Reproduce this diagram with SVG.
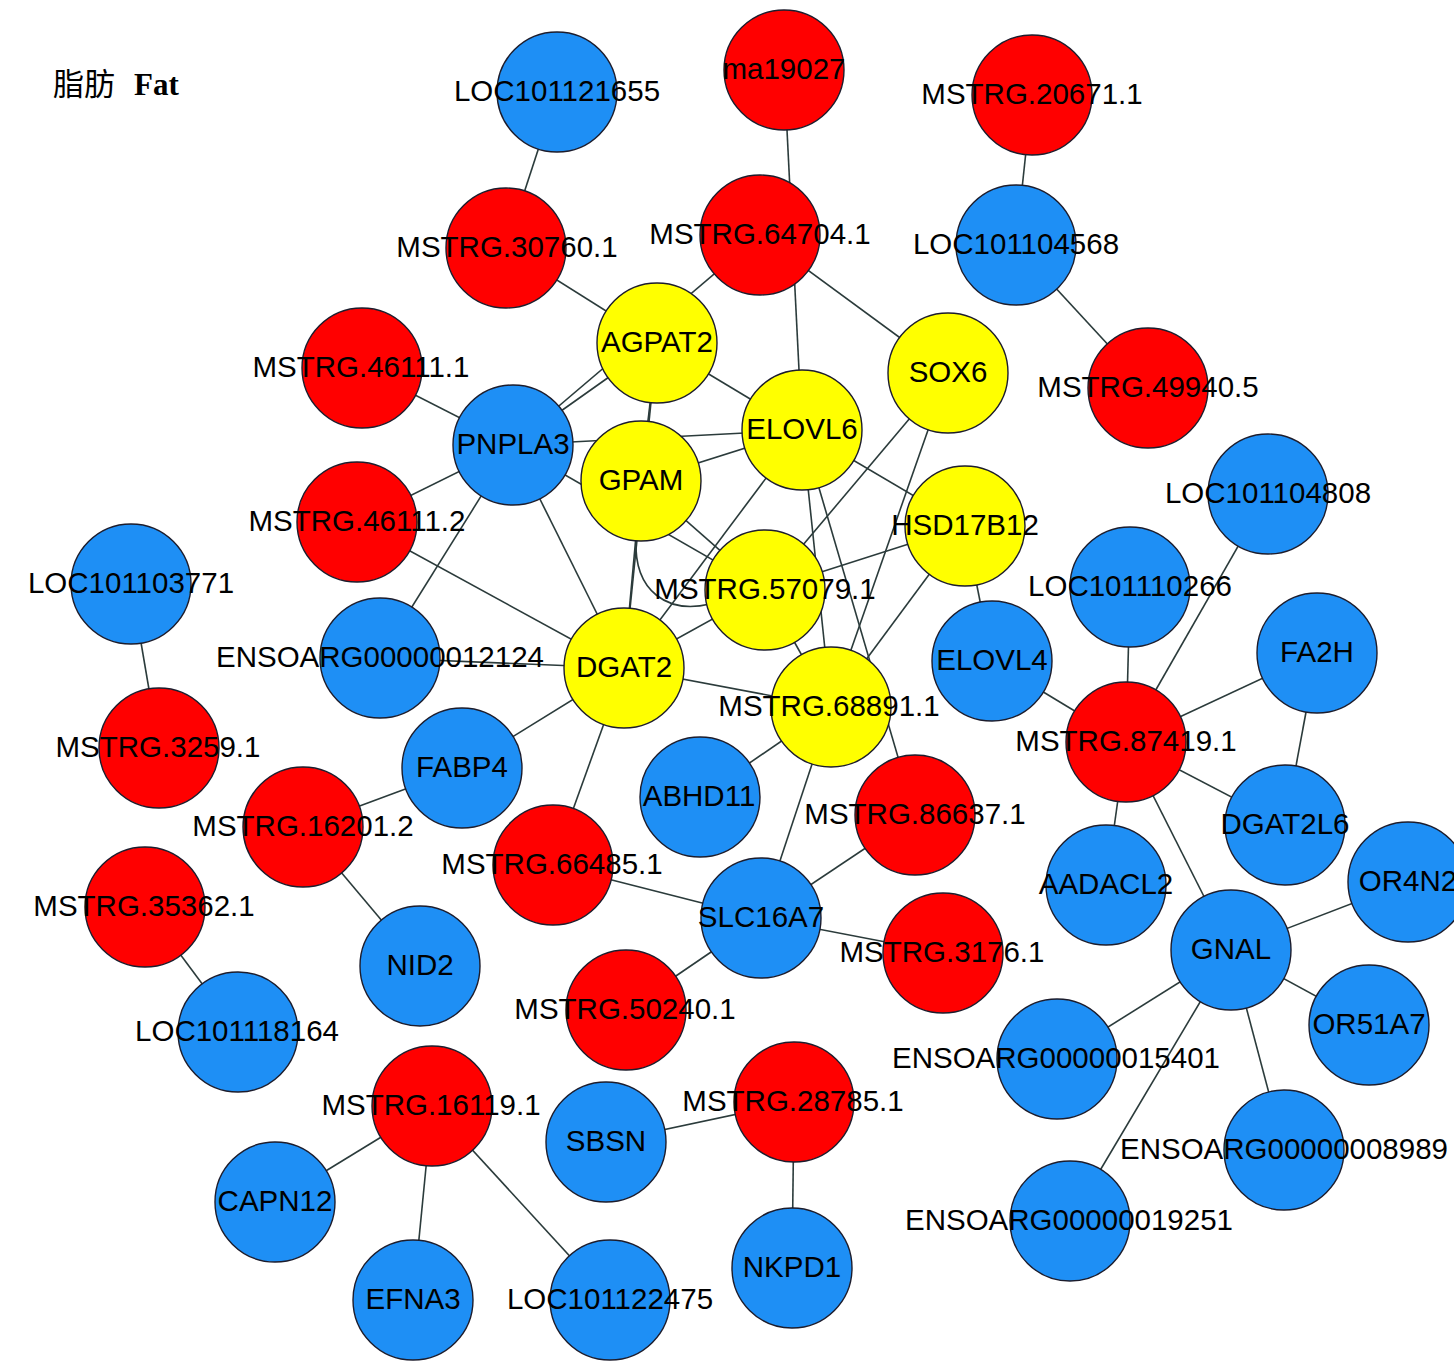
<svg xmlns="http://www.w3.org/2000/svg" width="1454" height="1371" viewBox="0 0 1454 1371">
<style>
.bg{fill:#ffffff}
.e{stroke:#2b3b3b;stroke-width:1.6;fill:none}
.n{stroke:#1c1c2c;stroke-width:1.4}
.r{fill:#ff0000}
.b{fill:#1e8ff5}
.y{fill:#ffff00}
.t{font-family:"Liberation Sans",Arial,sans-serif;font-size:29.5px;fill:#000;text-anchor:middle}
.ttl{font-family:"Liberation Serif","Noto Sans CJK SC",serif;font-size:31px;fill:#000}
</style>
<rect class="bg" x="0" y="0" width="1454" height="1371"/>
<text class="ttl" x="53" y="95">脂肪</text>
<text class="ttl" x="134" y="95" font-weight="bold">Fat</text>
<g id="connectors">
<line class="e" x1="557" y1="92" x2="506" y2="248"/>
<line class="e" x1="784" y1="70" x2="802" y2="430"/>
<line class="e" x1="1032" y1="95" x2="1016" y2="245"/>
<line class="e" x1="1016" y1="245" x2="1148" y2="388"/>
<line class="e" x1="506" y1="248" x2="657" y2="343"/>
<line class="e" x1="657" y1="343" x2="802" y2="430"/>
<line class="e" x1="760" y1="235" x2="948" y2="373"/>
<line class="e" x1="513" y1="445" x2="657" y2="343"/>
<line class="e" x1="513" y1="445" x2="760" y2="235"/>
<line class="e" x1="657" y1="343" x2="641" y2="481"/>
<line class="e" x1="362" y1="368" x2="513" y2="445"/>
<line class="e" x1="513" y1="445" x2="802" y2="430"/>
<line class="e" x1="641" y1="481" x2="802" y2="430"/>
<line class="e" x1="513" y1="445" x2="357" y2="522"/>
<line class="e" x1="513" y1="445" x2="380" y2="658"/>
<line class="e" x1="513" y1="445" x2="624" y2="668"/>
<line class="e" x1="513" y1="445" x2="765" y2="590"/>
<line class="e" x1="641" y1="481" x2="765" y2="590"/>
<line class="e" x1="641" y1="481" x2="624" y2="668"/>
<line class="e" x1="657" y1="343" x2="624" y2="668"/>
<path class="e" d="M636 540 C634 592 668 614 710 604"/>
<line class="e" x1="802" y1="430" x2="624" y2="668"/>
<line class="e" x1="802" y1="430" x2="831" y2="707"/>
<line class="e" x1="802" y1="430" x2="915" y2="815"/>
<line class="e" x1="802" y1="430" x2="965" y2="526"/>
<line class="e" x1="948" y1="373" x2="765" y2="590"/>
<line class="e" x1="948" y1="373" x2="831" y2="707"/>
<line class="e" x1="965" y1="526" x2="765" y2="590"/>
<line class="e" x1="965" y1="526" x2="831" y2="707"/>
<line class="e" x1="965" y1="526" x2="992" y2="661"/>
<line class="e" x1="765" y1="590" x2="624" y2="668"/>
<line class="e" x1="765" y1="590" x2="831" y2="707"/>
<line class="e" x1="357" y1="522" x2="624" y2="668"/>
<line class="e" x1="380" y1="658" x2="624" y2="668"/>
<line class="e" x1="624" y1="668" x2="462" y2="768"/>
<line class="e" x1="624" y1="668" x2="553" y2="865"/>
<line class="e" x1="624" y1="668" x2="831" y2="707"/>
<line class="e" x1="700" y1="797" x2="831" y2="707"/>
<line class="e" x1="831" y1="707" x2="761" y2="918"/>
<line class="e" x1="915" y1="815" x2="761" y2="918"/>
<line class="e" x1="553" y1="865" x2="761" y2="918"/>
<line class="e" x1="761" y1="918" x2="943" y2="953"/>
<line class="e" x1="761" y1="918" x2="626" y2="1010"/>
<line class="e" x1="131" y1="584" x2="159" y2="748"/>
<line class="e" x1="303" y1="827" x2="462" y2="768"/>
<line class="e" x1="303" y1="827" x2="420" y2="966"/>
<line class="e" x1="145" y1="907" x2="238" y2="1032"/>
<line class="e" x1="432" y1="1106" x2="275" y2="1202"/>
<line class="e" x1="432" y1="1106" x2="413" y2="1300"/>
<line class="e" x1="432" y1="1106" x2="610" y2="1300"/>
<line class="e" x1="794" y1="1102" x2="606" y2="1142"/>
<line class="e" x1="794" y1="1102" x2="792" y2="1268"/>
<line class="e" x1="992" y1="661" x2="1126" y2="742"/>
<line class="e" x1="1130" y1="587" x2="1126" y2="742"/>
<line class="e" x1="1268" y1="494" x2="1126" y2="742"/>
<line class="e" x1="1317" y1="653" x2="1126" y2="742"/>
<line class="e" x1="1126" y1="742" x2="1285" y2="825"/>
<line class="e" x1="1317" y1="653" x2="1285" y2="825"/>
<line class="e" x1="1126" y1="742" x2="1106" y2="885"/>
<line class="e" x1="1126" y1="742" x2="1231" y2="950"/>
<line class="e" x1="1231" y1="950" x2="1408" y2="882"/>
<line class="e" x1="1231" y1="950" x2="1369" y2="1025"/>
<line class="e" x1="1231" y1="950" x2="1057" y2="1059"/>
<line class="e" x1="1231" y1="950" x2="1284" y2="1150"/>
<line class="e" x1="1231" y1="950" x2="1070" y2="1221"/>
</g>
<g id="LOC101121655"><circle class="n b" cx="557" cy="92" r="60"/></g>
<g id="ma19027"><circle class="n r" cx="784" cy="70" r="60"/></g>
<g id="MSTRG.20671.1"><circle class="n r" cx="1032" cy="95" r="60"/></g>
<g id="MSTRG.30760.1"><circle class="n r" cx="506" cy="248" r="60"/></g>
<g id="MSTRG.64704.1"><circle class="n r" cx="760" cy="235" r="60"/></g>
<g id="LOC101104568"><circle class="n b" cx="1016" cy="245" r="60"/></g>
<g id="AGPAT2"><circle class="n y" cx="657" cy="343" r="60"/></g>
<g id="SOX6"><circle class="n y" cx="948" cy="373" r="60"/></g>
<g id="MSTRG.46111.1"><circle class="n r" cx="362" cy="368" r="60"/></g>
<g id="MSTRG.49940.5"><circle class="n r" cx="1148" cy="388" r="60"/></g>
<g id="PNPLA3"><circle class="n b" cx="513" cy="445" r="60"/></g>
<g id="GPAM"><circle class="n y" cx="641" cy="481" r="60"/></g>
<g id="ELOVL6"><circle class="n y" cx="802" cy="430" r="60"/></g>
<g id="HSD17B12"><circle class="n y" cx="965" cy="526" r="60"/></g>
<g id="LOC101104808"><circle class="n b" cx="1268" cy="494" r="60"/></g>
<g id="MSTRG.46111.2"><circle class="n r" cx="357" cy="522" r="60"/></g>
<g id="LOC101103771"><circle class="n b" cx="131" cy="584" r="60"/></g>
<g id="LOC101110266"><circle class="n b" cx="1130" cy="587" r="60"/></g>
<g id="MSTRG.57079.1"><circle class="n y" cx="765" cy="590" r="60"/></g>
<g id="ENSOARG00000012124"><circle class="n b" cx="380" cy="658" r="60"/></g>
<g id="DGAT2"><circle class="n y" cx="624" cy="668" r="60"/></g>
<g id="ELOVL4"><circle class="n b" cx="992" cy="661" r="60"/></g>
<g id="FA2H"><circle class="n b" cx="1317" cy="653" r="60"/></g>
<g id="MSTRG.68891.1"><circle class="n y" cx="831" cy="707" r="60"/></g>
<g id="MSTRG.87419.1"><circle class="n r" cx="1126" cy="742" r="60"/></g>
<g id="MSTRG.3259.1"><circle class="n r" cx="159" cy="748" r="60"/></g>
<g id="FABP4"><circle class="n b" cx="462" cy="768" r="60"/></g>
<g id="ABHD11"><circle class="n b" cx="700" cy="797" r="60"/></g>
<g id="MSTRG.86637.1"><circle class="n r" cx="915" cy="815" r="60"/></g>
<g id="DGAT2L6"><circle class="n b" cx="1285" cy="825" r="60"/></g>
<g id="MSTRG.16201.2"><circle class="n r" cx="303" cy="827" r="60"/></g>
<g id="MSTRG.66485.1"><circle class="n r" cx="553" cy="865" r="60"/></g>
<g id="AADACL2"><circle class="n b" cx="1106" cy="885" r="60"/></g>
<g id="OR4N2"><circle class="n b" cx="1408" cy="882" r="60"/></g>
<g id="MSTRG.35362.1"><circle class="n r" cx="145" cy="907" r="60"/></g>
<g id="SLC16A7"><circle class="n b" cx="761" cy="918" r="60"/></g>
<g id="MSTRG.3176.1"><circle class="n r" cx="943" cy="953" r="60"/></g>
<g id="GNAL"><circle class="n b" cx="1231" cy="950" r="60"/></g>
<g id="NID2"><circle class="n b" cx="420" cy="966" r="60"/></g>
<g id="MSTRG.50240.1"><circle class="n r" cx="626" cy="1010" r="60"/></g>
<g id="OR51A7"><circle class="n b" cx="1369" cy="1025" r="60"/></g>
<g id="LOC101118164"><circle class="n b" cx="238" cy="1032" r="60"/></g>
<g id="ENSOARG00000015401"><circle class="n b" cx="1057" cy="1059" r="60"/></g>
<g id="MSTRG.16119.1"><circle class="n r" cx="432" cy="1106" r="60"/></g>
<g id="MSTRG.28785.1"><circle class="n r" cx="794" cy="1102" r="60"/></g>
<g id="SBSN"><circle class="n b" cx="606" cy="1142" r="60"/></g>
<g id="ENSOARG00000008989"><circle class="n b" cx="1284" cy="1150" r="60"/></g>
<g id="CAPN12"><circle class="n b" cx="275" cy="1202" r="60"/></g>
<g id="ENSOARG00000019251"><circle class="n b" cx="1070" cy="1221" r="60"/></g>
<g id="NKPD1"><circle class="n b" cx="792" cy="1268" r="60"/></g>
<g id="EFNA3"><circle class="n b" cx="413" cy="1300" r="60"/></g>
<g id="LOC101122475"><circle class="n b" cx="610" cy="1300" r="60"/></g>
<g id="labels">
<text class="t" x="557" y="101">LOC101121655</text>
<text class="t" x="784" y="79">ma19027</text>
<text class="t" x="1032" y="104">MSTRG.20671.1</text>
<text class="t" x="507" y="257">MSTRG.30760.1</text>
<text class="t" x="760" y="244">MSTRG.64704.1</text>
<text class="t" x="1016" y="254">LOC101104568</text>
<text class="t" x="657" y="352">AGPAT2</text>
<text class="t" x="948" y="382">SOX6</text>
<text class="t" x="361" y="377">MSTRG.46111.1</text>
<text class="t" x="1148" y="397">MSTRG.49940.5</text>
<text class="t" x="513" y="454">PNPLA3</text>
<text class="t" x="641" y="490">GPAM</text>
<text class="t" x="802" y="439">ELOVL6</text>
<text class="t" x="965" y="535">HSD17B12</text>
<text class="t" x="1268" y="503">LOC101104808</text>
<text class="t" x="357" y="531">MSTRG.46111.2</text>
<text class="t" x="131" y="593">LOC101103771</text>
<text class="t" x="1130" y="596">LOC101110266</text>
<text class="t" x="765" y="599">MSTRG.57079.1</text>
<text class="t" x="380" y="667">ENSOARG00000012124</text>
<text class="t" x="624" y="677">DGAT2</text>
<text class="t" x="992" y="670">ELOVL4</text>
<text class="t" x="1317" y="662">FA2H</text>
<text class="t" x="829" y="716">MSTRG.68891.1</text>
<text class="t" x="1126" y="751">MSTRG.87419.1</text>
<text class="t" x="158" y="757">MSTRG.3259.1</text>
<text class="t" x="462" y="777">FABP4</text>
<text class="t" x="699" y="806">ABHD11</text>
<text class="t" x="915" y="824">MSTRG.86637.1</text>
<text class="t" x="1285" y="834">DGAT2L6</text>
<text class="t" x="303" y="836">MSTRG.16201.2</text>
<text class="t" x="552" y="874">MSTRG.66485.1</text>
<text class="t" x="1106" y="894">AADACL2</text>
<text class="t" x="1408" y="891">OR4N2</text>
<text class="t" x="144" y="916">MSTRG.35362.1</text>
<text class="t" x="761" y="927">SLC16A7</text>
<text class="t" x="942" y="962">MSTRG.3176.1</text>
<text class="t" x="1231" y="959">GNAL</text>
<text class="t" x="420" y="975">NID2</text>
<text class="t" x="625" y="1019">MSTRG.50240.1</text>
<text class="t" x="1369" y="1034">OR51A7</text>
<text class="t" x="237" y="1041">LOC101118164</text>
<text class="t" x="1056" y="1068">ENSOARG00000015401</text>
<text class="t" x="431" y="1115">MSTRG.16119.1</text>
<text class="t" x="793" y="1111">MSTRG.28785.1</text>
<text class="t" x="606" y="1151">SBSN</text>
<text class="t" x="1284" y="1159">ENSOARG00000008989</text>
<text class="t" x="275" y="1211">CAPN12</text>
<text class="t" x="1069" y="1230">ENSOARG00000019251</text>
<text class="t" x="792" y="1277">NKPD1</text>
<text class="t" x="413" y="1309">EFNA3</text>
<text class="t" x="610" y="1309">LOC101122475</text>
</g>
</svg>
